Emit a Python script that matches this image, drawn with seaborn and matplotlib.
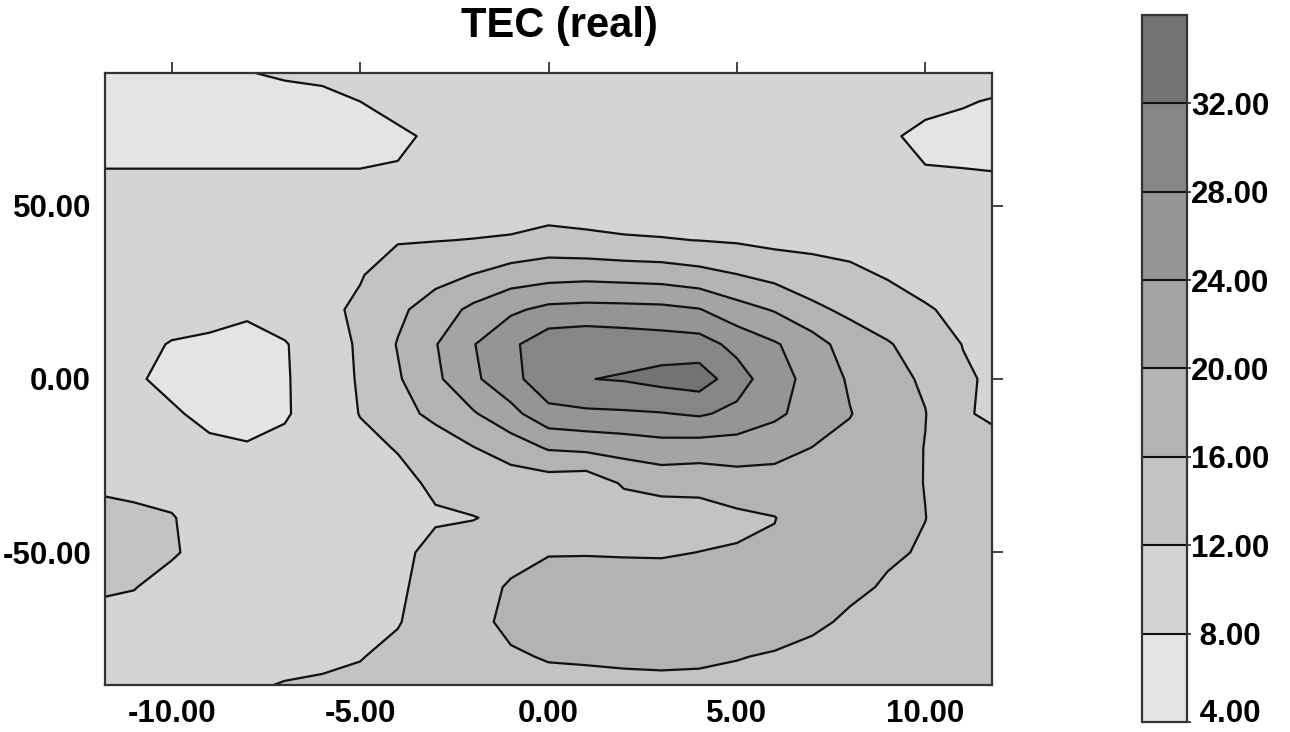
import numpy as np
import matplotlib
matplotlib.use("Agg")
import matplotlib.pyplot as plt
from matplotlib.ticker import FormatStrFormatter
import seaborn as sns

# ---------------- data ----------------
local_time = [-12, -11, -10, -9, -8, -7, -6, -5, -4, -3, -2, -1, 0,
              1, 2, 3, 4, 5, 6, 7, 8, 9, 10, 11, 12]
latitude = [90, 80, 70, 60, 50, 40, 30, 20, 10, 0,
            -10, -20, -30, -40, -50, -60, -70, -80, -90]

tec_lat_p90 = [6.5, 6.5, 6.5, 6.5, 8.2, 8.8, 9.0, 9.5, 10, 10, 10, 10, 10,
               10, 10, 10, 10, 10, 10, 10, 10, 10, 10, 10, 10]
tec_lat_p80 = [6.5, 6.5, 6.5, 6.5, 6.5, 6.8, 7.2, 8.0, 9.0, 10, 10, 10, 10,
               10, 10, 10, 10, 10, 10, 10, 10, 9.5, 8.8, 8.3, 7.6]
tec_lat_p70 = [6.5, 6.5, 6.5, 6.5, 6.5, 6.5, 6.5, 6.5, 7.5, 8.5, 10, 10, 10,
               10, 10, 10, 10, 10, 10, 10, 10, 8.4, 7.3, 6.8, 6.8]
tec_lat_p60 = [8.1, 8.1, 8.1, 8.1, 8.1, 8.1, 8.1, 8.1, 8.2, 9.2, 10, 10, 10,
               10, 10, 10, 10, 10, 10, 10, 10, 8.3, 8.15, 8.1, 7.95]
tec_lat_p50 = [10, 10, 10, 10, 10, 10, 10, 10, 10, 10, 10, 10, 10,
               10, 10, 10, 10, 10, 10, 10, 10, 10, 10, 10, 10]
tec_lat_p40 = [10.3, 10.3, 10.2, 10.1, 10.1, 10.2, 10.3, 10.8, 11.8, 11.9, 12.1, 12.4, 13.5,
               12.9, 12.4, 12.2, 11.95, 11.6, 11.0, 10.8, 10.7, 10.5, 10.4, 10.3, 10.2]
tec_lat_p30 = [10.5, 10.5, 10.3, 10.0, 10.0, 10.3, 10.8, 11.8, 13.5, 14.7, 16.1, 17.85, 18.5,
               18.8, 18.5, 18.2, 17.3, 16.1, 14.8, 13.8, 12.8, 11.7, 10.8, 10.6, 10.3]
tec_lat_p20 = [10.3, 10.0, 9.5, 9.0, 8.5, 9.5, 11.3, 12.5, 15.2, 17.9, 20.9, 23.3, 25.0,
               25.3, 25.2, 25.0, 24.2, 21.5, 19.7, 16.8, 15.2, 13.8, 12.3, 11.2, 10.5]
tec_lat_p10 = [9.8, 9.0, 7.8, 7.5, 7.0, 7.8, 9.7, 12.6, 16.2, 19.8, 23.8, 27.2, 30.5,
               31.0, 30.5, 30.0, 29.7, 26.8, 24.4, 21.8, 18.0, 16.3, 14.3, 11.9, 10.8]
tec_lat_000 = [9.5, 8.5, 7.0, 6.5, 6.5, 7.7, 9.7, 12.4, 15.6, 19.2, 23.3, 26.5, 31.0,
               31.9, 32.3, 33.3, 34.0, 29.8, 25.5, 22.8, 19.5, 17.2, 15.5, 12.5, 11.2]
tec_lat_m10 = [10.0, 9.5, 8.5, 7.0, 6.8, 7.6, 10.0, 12.1, 14.6, 17.0, 19.6, 22.8, 26.7,
               27.3, 27.5, 27.8, 28.5, 27.0, 24.8, 22.3, 20.15, 17.8, 16.1, 12.3, 11.3]
tec_lat_m20 = [10.5, 10.2, 9.5, 8.8, 8.3, 9.0, 10.5, 11.2, 12.15, 13.8, 15.8, 17.8, 20.3,
               20.8, 21.5, 22.3, 22.0, 22.0, 21.3, 19.9, 19.0, 17.8, 15.9, 13.3, 12.8]
tec_lat_m30 = [11.5, 11.0, 10.8, 10.0, 9.8, 10.0, 10.5, 10.8, 11.2, 12.5, 13.5, 14.0, 14.0,
               13.4, 16.5, 17.5, 17.3, 18.2, 18.4, 18.8, 18.2, 17.5, 15.9, 13.6, 13.3]
tec_lat_m40 = [13.0, 12.8, 12.2, 10.5, 10.0, 10.2, 10.4, 10.7, 11.0, 11.7, 11.9, 12.6, 13.5,
               13.6, 13.5, 13.6, 14.2, 15.2, 15.9, 18.0, 17.8, 17.2, 16.05, 14.0, 13.6]
tec_lat_m50 = [13.0, 12.8, 12.3, 11.0, 10.2, 10.3, 10.4, 10.8, 11.3, 12.8, 13.2, 14.5, 15.8,
               15.8, 15.7, 15.6, 16.05, 16.3, 16.5, 17.8, 17.5, 16.6, 15.6, 14.0, 13.6]
tec_lat_m60 = [12.5, 12.1, 11.0, 10.8, 10.4, 10.5, 10.6, 11.0, 11.6, 13.0, 14.2, 16.5, 17.5,
               17.8, 17.8, 18.0, 18.5, 18.5, 18.6, 18.4, 17.0, 15.5, 14.5, 13.7, 13.4]
tec_lat_m70 = [11.0, 11.0, 10.5, 10.6, 10.6, 10.8, 11.0, 11.3, 11.85, 13.3, 14.8, 17.0, 17.6,
               18.0, 18.3, 18.5, 18.8, 18.5, 18.0, 17.0, 15.2, 14.3, 13.8, 13.4, 13.2]
tec_lat_m80 = [10.8, 10.8, 10.6, 10.8, 11.0, 11.3, 11.5, 11.9, 12.6, 13.4, 14.5, 15.5, 16.3,
               16.5, 16.8, 17.0, 16.8, 16.2, 15.6, 14.5, 14.2, 13.6, 13.3, 13.1, 13.0]
tec_lat_m90 = [11.0, 11.0, 11.2, 11.5, 11.9, 12.3, 12.5, 12.6, 12.9, 13.2, 13.8, 14.0, 14.5,
               14.5, 14.5, 14.5, 14.5, 14.5, 14.0, 13.8, 13.6, 13.2, 13.0, 12.9, 12.8]

contour_levels = [4, 8, 12, 16, 20, 24, 28, 32, 36]
colorbar_labels = [" 4.00", " 8.00", "12.00", "16.00", "20.00", "24.00", "28.00", "32.00"]
x_ticks = [-10, -5, 0, 5, 10]
y_ticks = [-50, 0, 50]
title_text = "TEC (real)"

# ---------------- styling ----------------
sns.set_theme(style="white")
plt.rcParams["font.family"] = ["Liberation Sans", "DejaVu Sans"]
plt.rcParams["axes.unicode_minus"] = False
plt.rcParams["text.color"] = "black"
plt.rcParams["xtick.color"] = "black"
plt.rcParams["ytick.color"] = "black"

fill_colors = ["#e4e4e4", "#d4d4d4", "#c3c3c3", "#b3b3b3",
               "#a4a4a4", "#959595", "#868686", "#737373"]

tec = np.array([tec_lat_p90, tec_lat_p80, tec_lat_p70, tec_lat_p60, tec_lat_p50,
                tec_lat_p40, tec_lat_p30, tec_lat_p20, tec_lat_p10, tec_lat_000,
                tec_lat_m10, tec_lat_m20, tec_lat_m30, tec_lat_m40, tec_lat_m50,
                tec_lat_m60, tec_lat_m70, tec_lat_m80, tec_lat_m90])
X, Y = np.meshgrid(local_time, latitude)

fig = plt.figure(figsize=(12.9, 7.32), dpi=100)
ax = fig.add_axes([0.0814, 0.0642, 0.6876, 0.8361])

cf = ax.contourf(X, Y, tec, levels=contour_levels, colors=fill_colors)
ax.contour(X, Y, tec, levels=contour_levels[1:-1], colors="#111111",
           linewidths=1.6)

ax.set_xlim(-11.77, 11.77)
ax.set_ylim(-88.2, 88.2)
ax.set_xticks(x_ticks)
ax.set_yticks(y_ticks)
ax.xaxis.set_major_formatter(FormatStrFormatter("%.2f"))
ax.yaxis.set_major_formatter(FormatStrFormatter("%.2f"))
ax.tick_params(axis="both", which="major", direction="out", length=8, width=1.3,
               color="#333333", labelcolor="black", top=True, right=True,
               labeltop=False, labelright=False, labelsize=22.5, pad=2)
for lab in ax.get_xticklabels() + ax.get_yticklabels():
    lab.set_fontweight("bold")
for sp in ax.spines.values():
    sp.set_color("#333333")
    sp.set_linewidth(1.6)
ax.grid(False)

fig.text(0.434, 0.9495, title_text, ha="center", va="baseline",
         fontsize=30, fontweight="bold", color="black")

cax = fig.add_axes([0.8853, 0.0137, 0.0349, 0.9658])
cbar = fig.colorbar(cf, cax=cax, ticks=contour_levels[:-1], drawedges=True)
cbar.ax.set_yticklabels(colorbar_labels)
cbar.ax.tick_params(length=3, width=1.2, pad=0, labelsize=22.5,
                    color="#222222", labelcolor="black")
for lab in cbar.ax.get_yticklabels():
    lab.set_fontweight("bold")
cbar.ax.get_yticklabels()[0].set_va("baseline")
cbar.outline.set_edgecolor("#333333")
cbar.outline.set_linewidth(1.6)
cbar.dividers.set_color("#111111")
cbar.dividers.set_linewidth(1.5)

fig.savefig("out.png", dpi=100)
